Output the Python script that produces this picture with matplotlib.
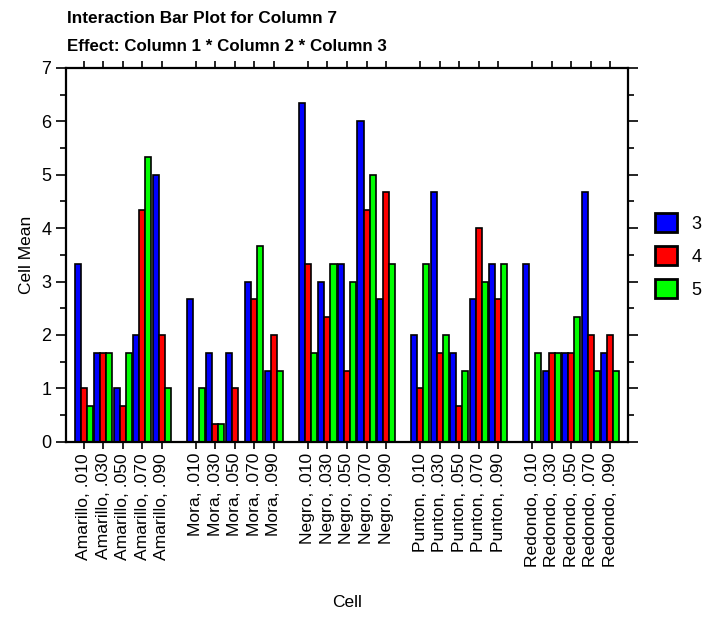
import numpy as np
import matplotlib
matplotlib.use("Agg")
import matplotlib.pyplot as plt
from matplotlib.patches import Patch

plt.rcParams['font.family'] = ['Liberation Sans', 'DejaVu Sans']

# data (cell means)
groups = ["Amarillo", "Mora", "Negro", "Punton", "Redondo"]
levels = [".010", ".030", ".050", ".070", ".090"]
series_names = ["3", "4", "5"]
colors = ["#0000ff", "#ff0000", "#00ff00"]

s3 = [3.333, 1.667, 1.0, 2.0, 5.0,
      2.667, 1.667, 1.667, 3.0, 1.333,
      6.333, 3.0, 3.333, 6.0, 2.667,
      2.0, 4.667, 1.667, 2.667, 3.333,
      3.333, 1.333, 1.667, 4.667, 1.667]
s4 = [1.0, 1.667, 0.667, 4.333, 2.0,
      0.0, 0.333, 1.0, 2.667, 2.0,
      3.333, 2.333, 1.333, 4.333, 4.667,
      1.0, 1.667, 0.667, 4.0, 2.667,
      0.0, 1.667, 1.667, 2.0, 2.0]
s5 = [0.667, 1.667, 1.667, 5.333, 1.0,
      1.0, 0.333, 0.0, 3.667, 1.333,
      1.667, 3.333, 3.0, 5.0, 3.333,
      3.333, 2.0, 1.333, 3.0, 3.333,
      1.667, 1.667, 2.333, 1.333, 1.333]

gap = 0.74
pos = []
labels = []
for j, g in enumerate(groups):
    for i, lv in enumerate(levels):
        pos.append(j * (5 + gap) + i)
        labels.append(f"{g}, {lv}")
pos = np.array(pos)

fig = plt.figure(figsize=(7.06, 6.17), dpi=100)
ax = fig.add_axes([0.0935, 0.284, 0.796, 0.606])

w = 0.31
for k, (vals, c) in enumerate(zip([s3, s4, s5], colors)):
    ax.bar(pos + (k - 1) * w, vals, width=w, color=c, edgecolor='black', linewidth=1.2, zorder=2)

ax.set_xlim(pos[0] - 0.9, pos[-1] + 0.9)
ax.set_ylim(0, 7)
ax.set_yticks(range(8))
ax.set_yticks(np.arange(0.5, 7, 1), minor=True)
ax.set_xticks(pos)
ax.set_xticklabels(labels, rotation=90, fontsize=12.6)
ax.tick_params(axis='y', labelsize=13, length=7, width=1.2, right=True, direction='out')
ax.tick_params(axis='y', which='minor', length=4, width=1.2, right=True)
ax.tick_params(axis='x', length=5, width=1.2, top=True, direction='out', pad=3)
for sp in ax.spines.values():
    sp.set_linewidth(1.6)

ax.set_ylabel("Cell Mean", fontsize=12.5, labelpad=5)
ax.set_xlabel("Cell", fontsize=12.5, labelpad=20)

fig.text(0.095, 0.970, "Interaction Bar Plot for Column 7", fontsize=12.4, fontweight='bold', ha='left', va='center')
fig.text(0.095, 0.925, "Effect: Column 1 * Column 2 * Column 3", fontsize=12.2, fontweight='bold', ha='left', va='center')

handles = [Patch(facecolor=c, edgecolor='black', linewidth=2) for c in colors]
fig.legend(handles, series_names, loc='center left', bbox_to_anchor=(0.905, 0.585), frameon=False,
           fontsize=13, handlelength=1.2, handleheight=1.25, handletextpad=0.8, labelspacing=0.75)

fig.savefig("out.png", dpi=100)
